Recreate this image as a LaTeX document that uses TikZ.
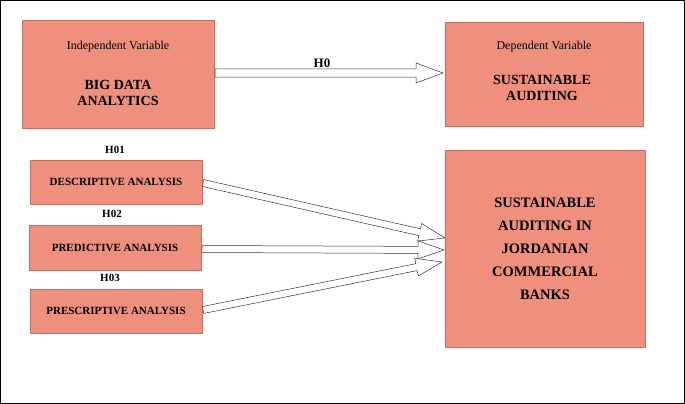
\documentclass[tikz,border=0pt]{standalone}
\usepackage{fontspec}
\setmainfont{Liberation Serif}
\usetikzlibrary{calc}
\definecolor{salmon}{HTML}{EF8F7E}
\tikzset{
  box/.style={fill=salmon, draw=salmon!80!black, line width=0.3pt, inner sep=0pt, align=center},
  lbl/.style={font=\bfseries\fontsize{12}{14}\selectfont},
}
\newcommand{\blockarrow}[5]{% start, end, shaft half, head half, head length
  \path let \p1=($(#2)-(#1)$), \n1={atan2(\y1,\x1)}, \n2={veclen(\x1,\y1)} in
    [draw=black!80, fill=white, line width=0.5pt, shift={(#1)}, rotate=\n1]
    (0,-#3) -- ({(\n2-#5)*1pt},-#3) -- ({(\n2-#5)*1pt},-#4) -- ({\n2*1pt},0)
    -- ({(\n2-#5)*1pt},#4) -- ({(\n2-#5)*1pt},#3) -- (0,#3) -- cycle;}
\begin{document}
\begin{tikzpicture}[x=1pt,y=-1pt]
\draw[line width=1pt] (0.5,0.5) rectangle (684.5,403.5);
\node[box, minimum width=192pt, minimum height=108pt] (iv) at (118,74) {};
\node[font=\fontsize{12}{14}\selectfont] at (118,47) {Independent Variable};
\node[lbl, font=\bfseries\fontsize{14}{16}\selectfont, align=center] at (118,93) {BIG DATA\\ANALYTICS};
\node[box, minimum width=198pt, minimum height=104pt] (dv) at (544,74) {};
\node[font=\fontsize{12}{14}\selectfont] at (544,47) {Dependent Variable};
\node[font=\bfseries\fontsize{14}{16}\selectfont, align=center] at (542,88) {SUSTAINABLE\\AUDITING};
\node[box, minimum width=200pt, minimum height=197pt, font=\bfseries\fontsize{14.5}{23}\selectfont] (sa) at (545,248.5) {SUSTAINABLE\\AUDITING IN\\JORDANIAN\\COMMERCIAL\\BANKS};
\node[box, minimum width=172pt, minimum height=44pt, font=\bfseries\fontsize{11}{13}\selectfont] (da) at (116,182) {DESCRIPTIVE ANALYSIS};
\node[box, minimum width=172pt, minimum height=45pt, font=\bfseries\fontsize{11}{13}\selectfont] (pa) at (115,247.5) {PREDICTIVE ANALYSIS};
\node[box, minimum width=172pt, minimum height=44pt, font=\bfseries\fontsize{11}{13}\selectfont] (ra) at (116,311) {PRESCRIPTIVE ANALYSIS};
\node[font=\bfseries\fontsize{11}{13}\selectfont] (h01) at (115,150) {H01};
\node[font=\bfseries\fontsize{11}{13}\selectfont] (h02) at (112,214) {H02};
\node[font=\bfseries\fontsize{11}{13}\selectfont] (h03) at (110,278) {H03};
\node[font=\bfseries\fontsize{13}{15}\selectfont] (h0) at (322,63) {H0};
\coordinate (a0s) at (215,73); \coordinate (a0e) at (443,73);
\blockarrow{a0s}{a0e}{4pt}{10pt}{27}
\coordinate (a1s) at (203,183); \coordinate (a1e) at (445,238);
\coordinate (a2s) at (202,249); \coordinate (a2e) at (444,250);
\coordinate (a3s) at (203,310); \coordinate (a3e) at (442,262);
\blockarrow{a1s}{a1e}{3.5pt}{9pt}{26}
\blockarrow{a2s}{a2e}{3.5pt}{9pt}{26}
\blockarrow{a3s}{a3e}{3.5pt}{9pt}{26}
\end{tikzpicture}
\end{document}
